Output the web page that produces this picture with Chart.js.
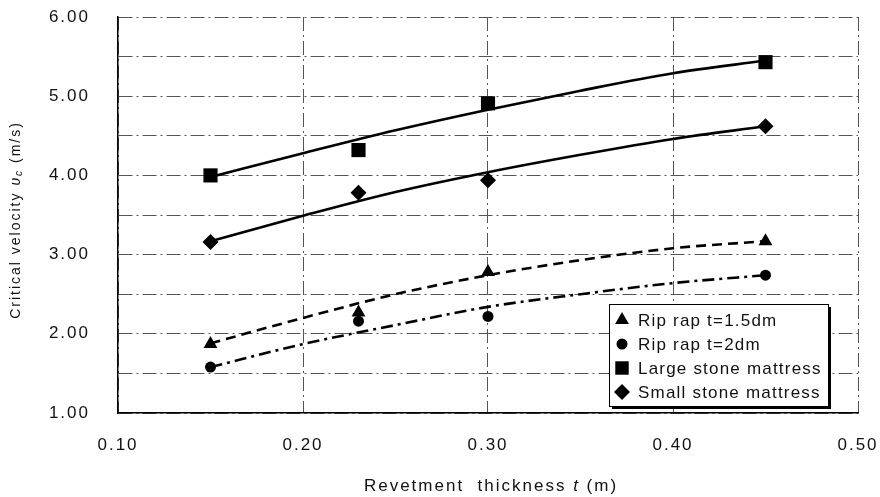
<!DOCTYPE html>
<html>
<head>
<meta charset="utf-8">
<script src="https://cdn.jsdelivr.net/npm/chart.js@4.4.1/dist/chart.umd.min.js"></script>
<style>
  html, body { margin: 0; padding: 0; background: #fff; }
</style>
</head>
<body>
<canvas id="chart" width="880" height="497"></canvas>
<script>
// measured points
const thickness = [0.15, 0.23, 0.30, 0.45];
const ripRap15 = [1.87, 2.27, 2.78, 3.17];
const ripRap2 = [1.58, 2.16, 2.22, 2.74];
const largeStone = [4.00, 4.32, 4.91, 5.43];
const smallStone = [3.16, 3.78, 3.94, 4.62];

// fitted curves
const trendX = [0.15, 0.20, 0.25, 0.30, 0.35, 0.40, 0.45];
const ripRap15Trend = [1.88, 2.20, 2.50, 2.74, 2.93, 3.08, 3.17];
const ripRap2Trend = [1.58, 1.87, 2.11, 2.34, 2.50, 2.64, 2.74];
const largeTrend = [3.98, 4.28, 4.57, 4.83, 5.07, 5.29, 5.45];
const smallTrend = [3.17, 3.49, 3.79, 4.04, 4.26, 4.46, 4.62];

const seriesNames = ['Rip rap t=1.5dm', 'Rip rap t=2dm', 'Large stone mattress', 'Small stone mattress'];
const markerStyles = ['triangle', 'circle', 'rect', 'rectRot'];
const markerSizes = [8, 5.5, 10, 8];
const legendSizes = [8, 5.5, 9.5, 8];

const yTitle = 'Critical velocity ';
const xTitle = 'Revetment  thickness ';
const FONT = '"Liberation Sans", Arial, sans-serif';

function pts(xs, ys) {
  return xs.map(function (x, i) { return { x: x, y: ys[i] }; });
}

function markerSet(i, ys) {
  return {
    label: seriesNames[i],
    data: pts(thickness, ys),
    showLine: false,
    pointStyle: markerStyles[i],
    pointRadius: markerSizes[i],
    pointHoverRadius: markerSizes[i],
    pointBackgroundColor: '#000',
    pointBorderColor: '#000',
    pointBorderWidth: 0
  };
}

function trendSet(ys, dash) {
  return {
    label: '',
    data: pts(trendX, ys),
    showLine: true,
    pointRadius: 0,
    borderColor: '#000',
    borderWidth: 2.6,
    borderDash: dash,
    tension: 0.4,
    cubicInterpolationMode: 'monotone'
  };
}

function drawSegs(ctx, segs, cx, cy) {
  let total = 0;
  segs.forEach(function (s) { ctx.font = s.f; total += ctx.measureText(s.t).width; });
  let x = cx - total / 2;
  segs.forEach(function (s) {
    ctx.font = s.f;
    ctx.fillText(s.t, x, cy + (s.dy || 0));
    x += ctx.measureText(s.t).width;
  });
}

const overlay = {
  id: 'overlay',
  beforeDraw(chart) {
    chart.ctx.letterSpacing = '2px';
  },
  afterDraw(chart) {
    const ctx = chart.ctx;
    ctx.save();
    ctx.fillStyle = '#111';
    ctx.textBaseline = 'middle';
    ctx.textAlign = 'left';

    // y title
    ctx.save();
    ctx.letterSpacing = '2px';
    ctx.translate(16, 220);
    ctx.rotate(-Math.PI / 2);
    drawSegs(ctx, [
      { t: yTitle, f: '14px ' + FONT },
      { t: 'υ', f: 'italic 14px ' + FONT },
      { t: 'c', f: 'italic 10px ' + FONT, dy: 3 },
      { t: ' (m/s)', f: '14px ' + FONT }
    ], 0, 0);
    ctx.restore();

    // x title
    ctx.letterSpacing = '2px';
    drawSegs(ctx, [
      { t: xTitle, f: '17px ' + FONT },
      { t: 't', f: 'italic 17px ' + FONT },
      { t: ' (m)', f: '17px ' + FONT }
    ], 491, 486);

    // legend box
    const lx = 609, ly = 304, lw = 219, lh = 102;
    ctx.fillStyle = '#000';
    ctx.fillRect(lx + 3, ly + 3, lw, lh);
    ctx.fillStyle = '#fff';
    ctx.fillRect(lx, ly, lw, lh);
    ctx.strokeStyle = '#000';
    ctx.lineWidth = 1;
    ctx.strokeRect(lx + 0.5, ly + 0.5, lw, lh);

    ctx.letterSpacing = '1.2px';
    ctx.font = '17px ' + FONT;
    seriesNames.forEach(function (name, i) {
      const y = ly + 16 + i * 24;
      ctx.fillStyle = '#000';
      Chart.helpers.drawPoint(ctx, {
        pointStyle: markerStyles[i],
        radius: legendSizes[i],
        rotation: 0,
        borderWidth: 0
      }, lx + 13, y);
      ctx.fillStyle = '#111';
      ctx.fillText(name, lx + 29, y + 1);
    });
    ctx.restore();
  }
};

const gridDash = [14, 4, 2, 4];

new Chart(document.getElementById('chart'), {
  type: 'scatter',
  data: {
    datasets: [
      markerSet(0, ripRap15),
      markerSet(1, ripRap2),
      markerSet(2, largeStone),
      markerSet(3, smallStone),
      trendSet(ripRap15Trend, [10, 6]),
      trendSet(ripRap2Trend, [12, 5, 3, 5]),
      trendSet(largeTrend, []),
      trendSet(smallTrend, [])
    ]
  },
  options: {
    responsive: false,
    animation: false,
    devicePixelRatio: 1,
    layout: { padding: { top: 17, right: 22, left: 0, bottom: 0 } },
    plugins: {
      legend: { display: false },
      tooltip: { enabled: false }
    },
    scales: {
      x: {
        type: 'linear',
        min: 0.1,
        max: 0.5,
        ticks: {
          stepSize: 0.1,
          padding: 22,
          color: '#111',
          font: { size: 17, family: FONT },
          callback: function (v) { return v.toFixed(2); }
        },
        grid: { color: '#555', lineWidth: 1, drawTicks: false },
        border: { display: true, color: '#000', width: 1.5, dash: gridDash },
        afterFit: function (scale) {
          scale.height = 497 - 413;
          scale.paddingLeft = 0;
          scale.paddingRight = 0;
        }
      },
      y: {
        type: 'linear',
        min: 1,
        max: 6,
        ticks: {
          stepSize: 0.5,
          padding: 28,
          color: '#111',
          font: { size: 17, family: FONT },
          callback: function (v) {
            return Math.abs(v - Math.round(v)) < 1e-6 ? v.toFixed(2) : '';
          }
        },
        grid: { color: '#555', lineWidth: 1, drawTicks: false },
        border: { display: true, color: '#000', width: 1.5, dash: gridDash },
        afterFit: function (scale) {
          scale.width = 118;
          scale.paddingTop = 0;
          scale.paddingBottom = 0;
        }
      }
    }
  },
  plugins: [overlay]
});
</script>
</body>
</html>
